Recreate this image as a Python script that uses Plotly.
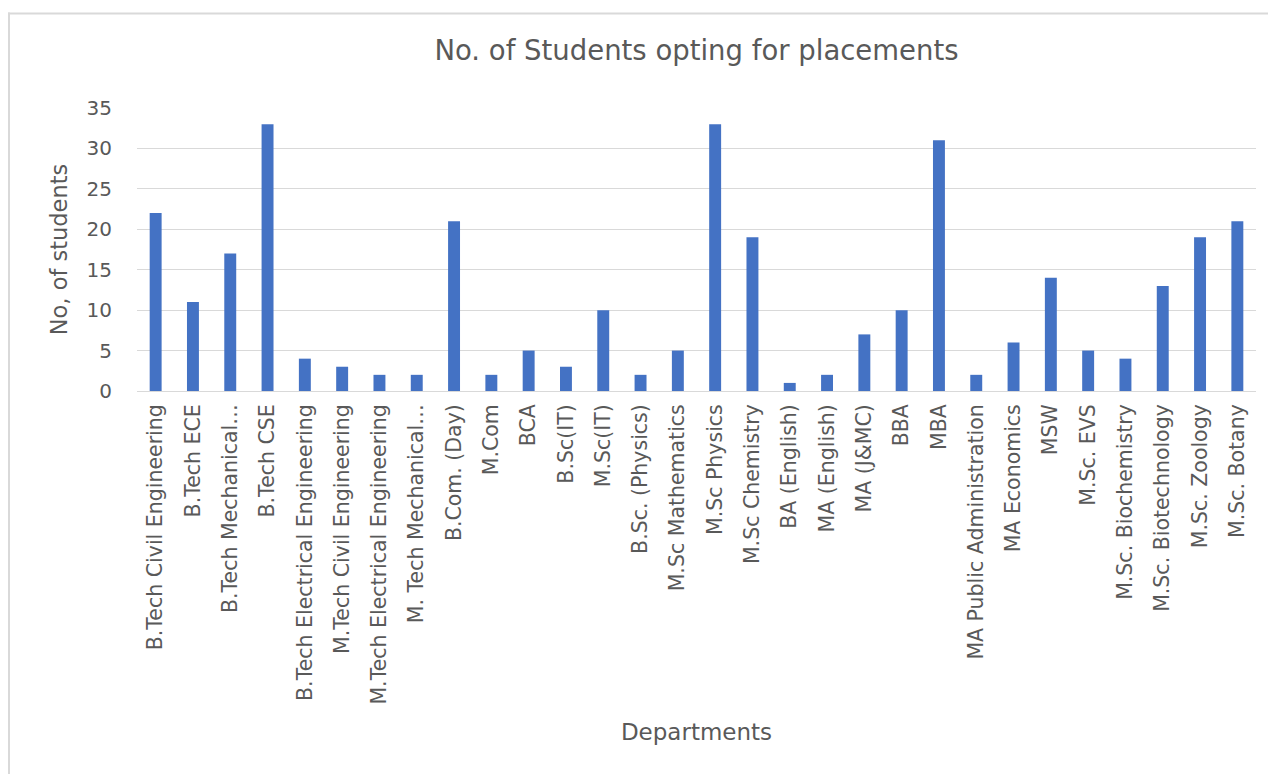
import plotly.graph_objects as go

departments = [
    "B.Tech Civil Engineering", "B.Tech ECE", "B.Tech Mechanical…", "B.Tech CSE",
    "B.Tech Electrical Engineering", "M.Tech Civil Engineering", "M.Tech Electrical Engineering",
    "M. Tech Mechanical…", "B.Com. (Day)", "M.Com", "BCA", "B.Sc(IT)", "M.Sc(IT)",
    "B.Sc. (Physics)", "M.Sc Mathematics", "M.Sc Physics", "M.Sc Chemistry", "BA (English)",
    "MA (English)", "MA (J&MC)", "BBA", "MBA", "MA Public Administration", "MA Economics",
    "MSW", "M.Sc. EVS", "M.Sc. Biochemistry", "M.Sc. Biotechnology", "M.Sc. Zoology",
    "M.Sc. Botany",
]
students = [22, 11, 17, 33, 4, 3, 2, 2, 21, 2, 5, 3, 10, 2, 5, 33, 19, 1, 2, 7, 10, 31, 2, 6,
            14, 5, 4, 13, 19, 21]
y_ticks = [0, 5, 10, 15, 20, 25, 30, 35]

OFF = 8  # page body margin
W, H = 1276 - OFF, 774 - OFF
L, R, T, B = 137 - OFF, 1256 - OFF, 108 - OFF, 391 - OFF

fig = go.Figure(go.Bar(
    x=departments, y=students,
    marker=dict(color="#4472C4", line=dict(width=0)),
))

FONT = "DejaVu Sans"
GREY = "#595959"
BORDER = "#d9d9d9"

def px_x(p):
    return (p - OFF - L) / (R - L)

def px_y(p):
    return (B - (p - OFF)) / (B - T)

fig.update_layout(
    width=W, height=H,
    margin=dict(l=L, r=W - R, t=T, b=H - B, autoexpand=False),
    paper_bgcolor="white", plot_bgcolor="white",
    bargap=0.68,
    showlegend=False,
    font=dict(family=FONT, color=GREY),
    title=dict(text="No. of Students opting for placements", x=(L + R) / 2 / W, xanchor="center",
               y=1 - (50 - OFF) / H, yanchor="middle",
               font=dict(family=FONT, size=27.5, color=GREY)),
    xaxis=dict(
        type="category", tickangle=-90, showgrid=False,
        showline=True, linecolor="#d9d9d9", linewidth=1,
        ticks="", tickfont=dict(family=FONT, size=20.5, color=GREY),
        ticklabelstandoff=4,
        title=dict(text="Departments", font=dict(family=FONT, size=23, color=GREY), standoff=20),
    ),
    yaxis=dict(
        range=[0, 35], tickvals=y_ticks, showgrid=True, gridcolor="#d9d9d9", gridwidth=1,
        zeroline=False, showline=False, ticks="",
        tickfont=dict(family=FONT, size=20, color=GREY),
        ticklabelstandoff=24,
        title=dict(text="No, of students", font=dict(family=FONT, size=22.5, color=GREY), standoff=12),
    ),
    shapes=[
        dict(type="line", xref="paper", yref="paper",
             x0=px_x(8), x1=px_x(1276), y0=px_y(13.5), y1=px_y(13.5),
             line=dict(color=BORDER, width=2), layer="below"),
        dict(type="line", xref="paper", yref="paper",
             x0=px_x(9), x1=px_x(9), y0=px_y(12.5), y1=px_y(780),
             line=dict(color=BORDER, width=2), layer="below"),
    ],
)

fig.write_html("out.html")
